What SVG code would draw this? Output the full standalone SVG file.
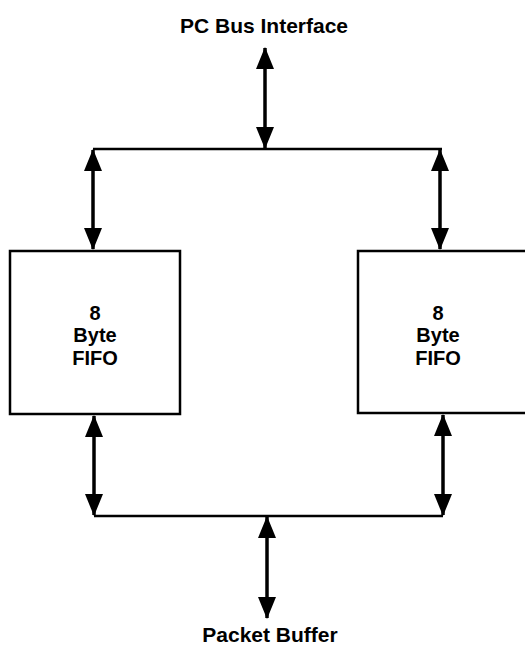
<svg xmlns="http://www.w3.org/2000/svg" width="525" height="650" viewBox="0 0 525 650">
<style>
.t{font-family:"Liberation Sans",Arial,sans-serif;font-weight:bold;font-size:21px;fill:#000;text-anchor:middle}
.b{font-size:20px}
.box{fill:#fff;stroke:#000;stroke-width:2.5}
.bus{stroke:#000;stroke-width:2.5;fill:none}
.arr{stroke:#000;stroke-width:3.5;fill:none;marker-start:url(#h);marker-end:url(#h)}
</style>
<defs>
<marker id="h" viewBox="0 0 22 18" refX="21" refY="9" markerWidth="22" markerHeight="18" markerUnits="userSpaceOnUse" orient="auto-start-reverse">
<path d="M0,0 L22,9 L0,18 Z" fill="#000"/>
</marker>
</defs>
<rect width="525" height="650" fill="#fff"/>
<g id="pc-bus">
<text class="t" x="264" y="33">PC Bus Interface</text>
</g>
<g id="fifo-left">
<rect class="box" x="10" y="251" width="170" height="163"/>
<text class="t b" x="95" y="320">8</text>
<text class="t b" x="95" y="342">Byte</text>
<text class="t b" x="95" y="365">FIFO</text>
</g>
<g id="fifo-right">
<rect class="box" x="358" y="251" width="170" height="162"/>
<text class="t b" x="438" y="320">8</text>
<text class="t b" x="438" y="342">Byte</text>
<text class="t b" x="438" y="365">FIFO</text>
</g>
<g id="packet-buffer">
<text class="t" x="270" y="642">Packet Buffer</text>
</g>
<g id="connectors">
<path class="bus" d="M93,149 H442"/>
<path class="bus" d="M94,516 H443"/>
<path class="arr" d="M265,48 V148"/>
<path class="arr" d="M93,150 V249"/>
<path class="arr" d="M440,150 V249"/>
<path class="arr" d="M94,416 V515"/>
<path class="arr" d="M443,415 V515"/>
<path class="arr" d="M267,517 V618"/>
</g>
</svg>
